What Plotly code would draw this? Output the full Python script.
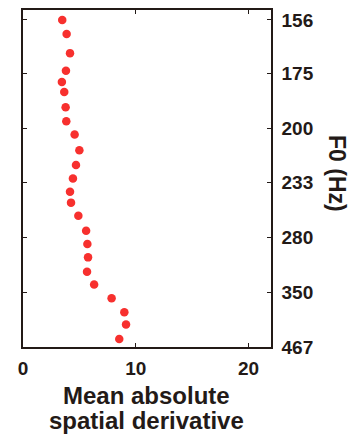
import plotly.graph_objects as go

# Data
f0_tick_labels = [156, 175, 200, 233, 280, 350, 467]
x_tick_vals = [0, 10, 20]
f0_hz = [156.0, 160.6, 167.3, 174.0, 178.6, 182.8, 189.7, 196.5, 203.5, 212.4,
         221.4, 230.3, 239.9, 248.4, 259.5, 273.4, 286.9, 302.0, 320.0, 338.3,
         360.0, 385.2, 410.5, 445.4]
mean_abs_deriv = [3.48, 3.87, 4.17, 3.81, 3.45, 3.66, 3.78, 3.84, 4.58, 5.00,
                  4.70, 4.43, 4.17, 4.26, 4.91, 5.60, 5.71, 5.77, 5.68, 6.31,
                  7.86, 8.99, 9.14, 8.54]

# axis is linear in period (ms)
period_ms = [1000.0 / f for f in f0_hz]
tick_period = [1000.0 / f for f in f0_tick_labels]

FONT = "Liberation Sans"
INK = "#231a17"
ML, MR, MT, MB = 23, 91, 8, 97
W, H = 362, 444
pw = W - ML - MR
ph = H - MT - MB


def px_to_paper(x, y):
    return (x - ML) / pw, 1 - (y - MT) / ph


fig = go.Figure()
fig.add_trace(go.Scatter(
    x=mean_abs_deriv, y=period_ms, mode="markers",
    marker=dict(color="#f7302e", size=8.5, line=dict(width=0)),
    showlegend=False,
))

anns = []
for text, x, y, size, angle in [
    ("F0 (Hz)", 337, 172, 23, 90),
    ("Mean absolute", 146, 396, 24, 0),
    ("spatial derivative", 146, 421, 24, 0),
]:
    px, py = px_to_paper(x, y)
    anns.append(dict(text=text, textangle=angle, x=px, y=py, xref="paper", yref="paper",
                     xanchor="center", yanchor="middle", showarrow=False,
                     font=dict(family=FONT, size=size, color=INK, weight="bold")))

fig.update_layout(
    width=W, height=H,
    margin=dict(l=ML, r=MR, t=MT, b=MB),
    paper_bgcolor="white", plot_bgcolor="white",
    font=dict(family=FONT, color=INK, size=19, weight="bold"),
    xaxis=dict(
        range=[0, 22], tickvals=x_tick_vals,
        ticks="inside", ticklen=4, tickwidth=1, tickcolor=INK,
        showline=True, linecolor=INK, linewidth=1.5, mirror="ticks",
        showgrid=False, zeroline=False,
        tickfont=dict(family=FONT, size=19, color=INK, weight="bold"),
        ticklabelstandoff=3,
    ),
    yaxis=dict(
        range=[min(tick_period), max(tick_period) + 0.13],
        tickvals=tick_period, ticktext=[str(v) for v in f0_tick_labels],
        side="right",
        ticks="inside", ticklen=4, tickwidth=1, tickcolor=INK,
        showline=True, linecolor=INK, linewidth=1.5, mirror="ticks",
        showgrid=False, zeroline=False,
        tickfont=dict(family=FONT, size=19, color=INK, weight="bold"),
        ticklabelstandoff=5,
    ),
    annotations=anns,
)

fig.write_html("out.html")
